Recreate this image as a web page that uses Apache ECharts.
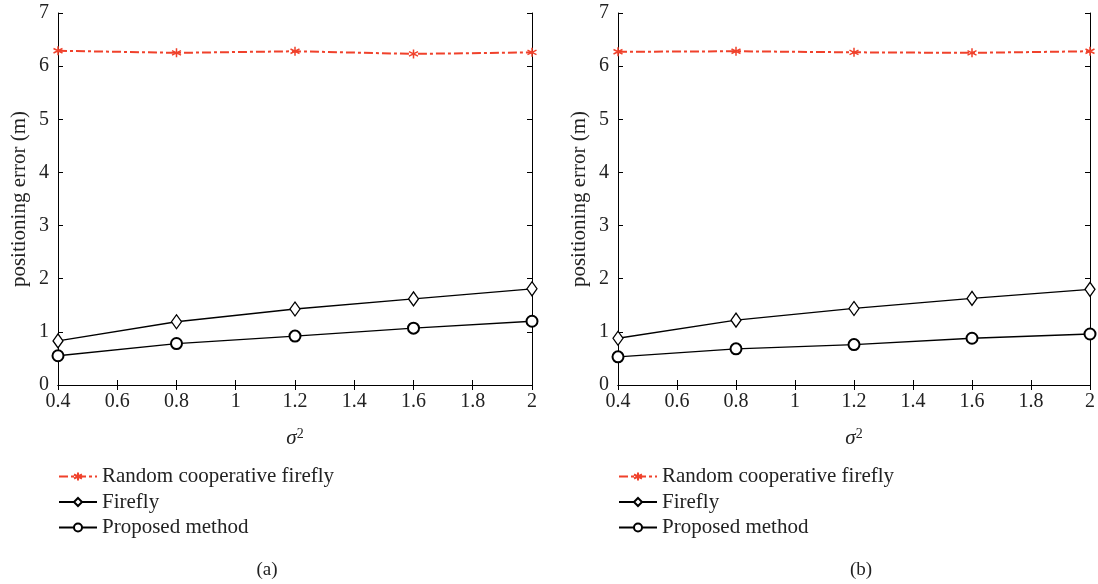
<!DOCTYPE html>
<html>
<head>
<meta charset="utf-8">
<script src="https://cdn.jsdelivr.net/npm/echarts@6/dist/echarts.min.js"></script>
<style>
html,body{margin:0;padding:0;background:#fff;}
#chart{width:1098px;height:584px;}
</style>
</head>
<body>
<div id="chart"></div>
<script>
// data
var sigma2 = [0.4, 0.8, 1.2, 1.6, 2];
var randomA   = [6.29, 6.25, 6.28, 6.23, 6.26];
var fireflyA  = [0.83, 1.19, 1.43, 1.62, 1.81];
var proposedA = [0.55, 0.78, 0.92, 1.07, 1.20];
var randomB   = [6.27, 6.28, 6.26, 6.25, 6.28];
var fireflyB  = [0.88, 1.22, 1.44, 1.63, 1.80];
var proposedB = [0.53, 0.68, 0.76, 0.88, 0.96];
var names = ['Random cooperative firefly', 'Firefly', 'Proposed method'];
var captions = ['(a)', '(b)'];

(function(){
var chart = echarts.init(document.getElementById('chart'));
var serif = 'Liberation Serif';
var red = '#f0412b';
var star = 'path://M0,-10L0,10M-8.66,-5L8.66,5M-8.66,5L8.66,-5';

function pts(arr){
    return sigma2.map(function(x, i){ return [x, arr[i]]; });
}

var grids = [
    {left: 58, top: 13, width: 474, height: 372},
    {left: 618, top: 13, width: 472, height: 372}
];

var xAxes = [], yAxes = [], series = [];
[0, 1].forEach(function(g){
    xAxes.push({
        type: 'value', gridIndex: g, min: 0.4, max: 2, interval: 0.2,
        name: '{i|σ}{s|2}', nameLocation: 'middle', nameGap: 42,
        nameTextStyle: {rich: {
            i: {fontFamily: serif, fontStyle: 'italic', fontSize: 21, color: '#222'},
            s: {fontFamily: serif, fontSize: 14, color: '#222', verticalAlign: 'top', padding: [0, 0, 9, 0]}
        }},
        axisLine: {lineStyle: {color: '#000', width: 1}},
        axisTick: {inside: true, length: 5, lineStyle: {color: '#000'}},
        axisLabel: {fontFamily: serif, fontSize: 20, color: '#222', margin: 7,
            formatter: function(v){ return String(+v.toFixed(1)); }},
        splitLine: {show: false}
    });
    xAxes.push({
        type: 'value', gridIndex: g, position: 'top', min: 0.4, max: 2, interval: 0.2,
        axisLine: {lineStyle: {color: '#000', width: 1}},
        axisTick: {inside: true, length: 5, lineStyle: {color: '#000'}},
        axisLabel: {show: false}, splitLine: {show: false}
    });
    yAxes.push({
        type: 'value', gridIndex: g, min: 0, max: 7, interval: 1,
        name: 'positioning error (m)', nameLocation: 'middle', nameGap: 28,
        nameTextStyle: {fontFamily: serif, fontSize: 21, color: '#222'},
        axisLine: {show: true, lineStyle: {color: '#000', width: 1}},
        axisTick: {show: true, inside: true, length: 5, lineStyle: {color: '#000'}},
        axisLabel: {fontFamily: serif, fontSize: 20, color: '#222', margin: 9},
        splitLine: {show: false}
    });
    yAxes.push({
        type: 'value', gridIndex: g, position: 'right', min: 0, max: 7, interval: 1,
        axisLine: {show: true, lineStyle: {color: '#000', width: 1}},
        axisTick: {show: true, inside: true, length: 5, lineStyle: {color: '#000'}},
        axisLabel: {show: false}, splitLine: {show: false}
    });

    var r = g === 0 ? randomA : randomB;
    var f = g === 0 ? fireflyA : fireflyB;
    var p = g === 0 ? proposedA : proposedB;
    series.push({
        name: names[0], type: 'line', xAxisIndex: g * 2, yAxisIndex: g * 2,
        data: pts(r), symbol: star, symbolSize: 9,
        itemStyle: {color: red, borderColor: red, borderWidth: 1.5},
        lineStyle: {color: red, width: 2, type: [9, 3, 3, 3]}
    });
    series.push({
        name: names[1], type: 'line', xAxisIndex: g * 2, yAxisIndex: g * 2,
        data: pts(f), symbol: 'diamond', symbolSize: [10, 14],
        itemStyle: {color: '#fff', borderColor: '#000', borderWidth: 1.3},
        lineStyle: {color: '#000', width: 1.3}
    });
    series.push({
        name: names[2], type: 'line', xAxisIndex: g * 2, yAxisIndex: g * 2,
        data: pts(p), symbol: 'circle', symbolSize: 11,
        itemStyle: {color: '#fff', borderColor: '#000', borderWidth: 2},
        lineStyle: {color: '#000', width: 1.3}
    });
});

var legends = [53, 613].map(function(x){
    return {
        orient: 'vertical', left: x, top: 461, itemGap: 4.5,
        itemWidth: 38, itemHeight: 10, data: names,
        textStyle: {fontFamily: serif, fontSize: 21, color: '#222'}
    };
});

option = {
    animation: false,
    backgroundColor: '#fff',
    title: [
        {text: captions[0], left: 262, top: 556, textAlign: 'center',
            textStyle: {fontFamily: serif, fontSize: 19, fontWeight: 'normal', color: '#222'}},
        {text: captions[1], left: 856, top: 556, textAlign: 'center',
            textStyle: {fontFamily: serif, fontSize: 19, fontWeight: 'normal', color: '#222'}}
    ],
    legend: legends,
    grid: grids,
    xAxis: xAxes,
    yAxis: yAxes,
    series: series
};

chart.setOption(option);
})();
</script>
</body>
</html>
